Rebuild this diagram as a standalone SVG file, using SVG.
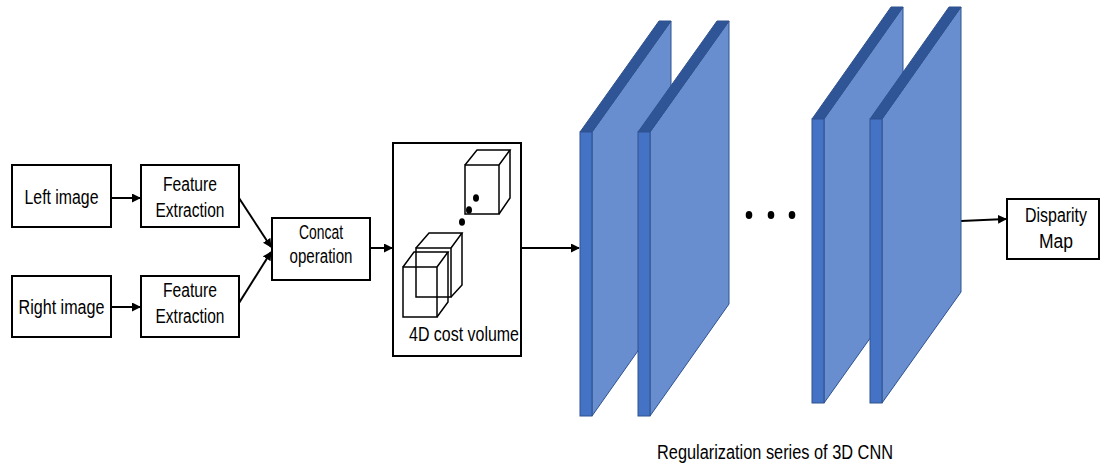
<svg xmlns="http://www.w3.org/2000/svg" width="1100" height="463" viewBox="0 0 1100 463">
<defs>
<marker id="ah" markerWidth="9" markerHeight="9" refX="8" refY="4.5" orient="auto" markerUnits="userSpaceOnUse">
<path d="M0,0 L9,4.5 L0,9 Z" fill="#000"/>
</marker>
<style>
.box{fill:#fff;stroke:#000;stroke-width:2}
.t{font-family:"Liberation Sans",Arial,sans-serif;font-size:20px;fill:#000;text-anchor:middle}
.c{fill:none;stroke:#000;stroke-width:2;marker-end:url(#ah)}
.wf{fill:none;stroke:#000;stroke-width:1.5}
.side{fill:#4472C4;stroke:#2F528F;stroke-width:1}
.top{fill:#2F5597;stroke:#2F528F;stroke-width:1}
.face{fill:#698ECF;stroke:#2F528F;stroke-width:1}
</style>
</defs>
<rect width="1100" height="463" fill="#fff"/>

<g id="connectors">
<line class="c" x1="111" y1="198" x2="140" y2="198"/>
<line class="c" x1="111" y1="307" x2="140" y2="307"/>
<line class="c" x1="239" y1="198" x2="271" y2="247"/>
<line class="c" x1="239" y1="303" x2="271" y2="252"/>
<line class="c" x1="370" y1="248" x2="392" y2="248"/>
<line class="c" x1="521" y1="248" x2="579" y2="248"/>
<line class="c" x1="961" y1="221" x2="1006" y2="219"/>
</g>

<g id="left-image">
<rect class="box" x="12" y="165" width="99" height="62"/>
<text class="t" x="61.5" y="204" textLength="74" lengthAdjust="spacingAndGlyphs">Left image</text>
</g>
<g id="right-image">
<rect class="box" x="12" y="276" width="99" height="61"/>
<text class="t" x="61.5" y="314" textLength="86" lengthAdjust="spacingAndGlyphs">Right image</text>
</g>
<g id="feature-top">
<rect class="box" x="141" y="165" width="98" height="62"/>
<text class="t" x="190" y="191" textLength="54" lengthAdjust="spacingAndGlyphs">Feature</text>
<text class="t" x="190" y="217" textLength="69" lengthAdjust="spacingAndGlyphs">Extraction</text>
</g>
<g id="feature-bottom">
<rect class="box" x="141" y="276" width="98" height="61"/>
<text class="t" x="190" y="297" textLength="54" lengthAdjust="spacingAndGlyphs">Feature</text>
<text class="t" x="190" y="323" textLength="69" lengthAdjust="spacingAndGlyphs">Extraction</text>
</g>
<g id="concat">
<rect class="box" x="272" y="218" width="98" height="62"/>
<text class="t" x="321" y="239" font-size="18" textLength="44" lengthAdjust="spacingAndGlyphs">Concat</text>
<text class="t" x="321" y="263" font-size="18" textLength="63" lengthAdjust="spacingAndGlyphs">operation</text>
</g>
<g id="cost-volume">
<rect class="box" x="393" y="143" width="128" height="213"/>
<rect class="wf" x="465" y="165" width="34" height="49"/>
<polyline class="wf" points="465,165 477,150 510,150 499,165"/>
<polyline class="wf" points="510,150 510,198 499,214"/>
<rect class="wf" x="416" y="248" width="35" height="49"/>
<polyline class="wf" points="416,248 429,233 462,233 451,248"/>
<polyline class="wf" points="462,233 462,285 451,297"/>
<rect class="wf" x="403" y="267" width="34" height="50"/>
<polyline class="wf" points="403,267 414,252 448,252 437,267"/>
<polyline class="wf" points="448,252 448,302 437,317"/>
<ellipse cx="476" cy="198" rx="3" ry="3.8" fill="#000"/>
<ellipse cx="469" cy="210" rx="3" ry="3.8" fill="#000"/>
<ellipse cx="462" cy="222" rx="3" ry="3.8" fill="#000"/>
<text class="t" x="464" y="341" textLength="110" lengthAdjust="spacingAndGlyphs">4D cost volume</text>
</g>

<g id="layer1">
<polygon class="face" points="592,132 671,21 671,304 592,416"/>
<polygon class="top" points="580,132 592,132 671,21 659,21"/>
<rect class="side" x="580" y="132" width="12" height="284"/>
</g>
<g id="layer2">
<polygon class="face" points="650,132 729,21 729,304 650,416"/>
<polygon class="top" points="638,132 650,132 729,21 717,21"/>
<rect class="side" x="638" y="132" width="12" height="284"/>
</g>
<g id="ellipsis">
<ellipse cx="749" cy="215" rx="3.3" ry="4" fill="#000"/>
<ellipse cx="771" cy="215" rx="3.3" ry="4" fill="#000"/>
<ellipse cx="792" cy="215" rx="3.3" ry="4" fill="#000"/>
</g>
<g id="layer3">
<polygon class="face" points="824,119 903,7 903,292 824,403"/>
<polygon class="top" points="812,119 824,119 903,7 891,7"/>
<rect class="side" x="812" y="119" width="12" height="284"/>
</g>
<g id="layer4">
<polygon class="face" points="882,119 961,7 961,292 882,403"/>
<polygon class="top" points="870,119 882,119 961,7 949,7"/>
<rect class="side" x="870" y="119" width="12" height="284"/>
</g>

<g id="disparity-map">
<rect class="box" x="1007" y="199" width="92" height="60"/>
<text class="t" x="1056" y="222" font-size="19" textLength="62" lengthAdjust="spacingAndGlyphs">Disparity</text>
<text class="t" x="1056" y="248" font-size="19" textLength="34" lengthAdjust="spacingAndGlyphs">Map</text>
</g>

<g id="caption">
<text class="t" x="775" y="459" font-size="19" textLength="236" lengthAdjust="spacingAndGlyphs">Regularization series of 3D CNN</text>
</g>
</svg>
